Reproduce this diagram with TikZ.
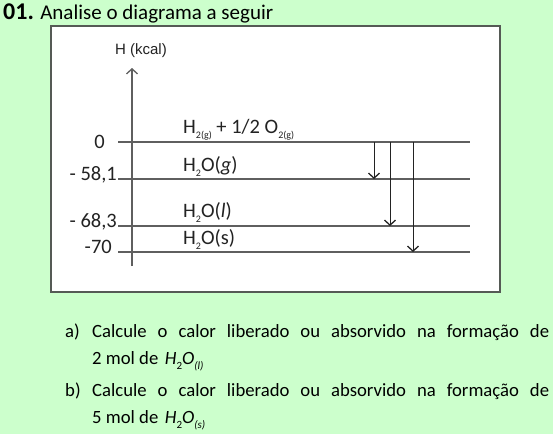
\documentclass[tikz,border=0pt]{standalone}
\usepackage{fontspec}
\setmainfont{Carlito}
\newfontfamily\arialfont{Liberation Sans}
\usetikzlibrary{arrows.meta}
\definecolor{pagegreen}{RGB}{204,255,204}
\definecolor{framegray}{RGB}{85,90,85}
\definecolor{levelgray}{RGB}{95,95,95}
\definecolor{inkgray}{RGB}{35,35,35}
\newcommand{\lowsub}[1]{\raisebox{-0.28em}{\fontsize{10}{10}\selectfont #1}}
\newcommand{\qsub}[1]{\raisebox{-0.32em}{\fontsize{11}{11}\selectfont #1}}

\begin{document}
\begin{tikzpicture}[x=1pt, y=-1pt,
    levelline/.style={levelgray, line width=1.1pt},
    axisline/.style={levelgray, line width=1.2pt, -{Straight Barb[length=5pt, width=11pt, line width=1.3pt]}},
    drop/.style={inkgray, line width=1pt, -{Straight Barb[length=5pt, width=11pt, line width=1.3pt]}},
    enthval/.style={anchor=base east, inner sep=0pt, text=inkgray, font=\fontsize{20.5}{22}\selectfont},
    statelbl/.style={anchor=base west, inner sep=0pt, text=inkgray, font=\fontsize{20.5}{22}\selectfont},
    qline/.style={anchor=base west, inner sep=0pt, font=\fontsize{18.7}{22}\selectfont}]
    \fill[pagegreen] (0,0) rectangle (553,434);
    \useasboundingbox (0,0) rectangle (553,434);
    \node[name=title, anchor=base west, inner sep=0pt, font=\fontsize{21}{24}\selectfont] at (3,19) {{\bfseries\fontsize{24}{26}\selectfont 01.} Analise o diagrama a seguir};
    \draw[framegray, fill=white, line width=1.2pt] (51,26) rectangle (500,292);
    % eixo de entalpia
    \coordinate (axbot) at (132,266);
    \coordinate (axtop) at (132,68);
    \draw[axisline] (axbot) -- (axtop);
    \node[name=hlabel, anchor=base, inner sep=0pt, text=inkgray, font=\arialfont\fontsize{15}{17}\selectfont] at (141,54) {H (kcal)};
    % niveis
    \foreach \y/\n in {142/0, 179/g, 226/l, 252/s} {
        \coordinate (lv\n) at (118,\y);
        \coordinate (lvend\n) at (470,\y);
        \draw[levelline] (lv\n) -- (lvend\n);
    }
    \node[name=v0, enthval] at (105,148) {0};
    \node[name=vg, enthval] at (117,180) {- 58,1};
    \node[name=vl, enthval] at (117,227) {- 68,3};
    \node[name=vs, enthval] at (112,253) {-70};
    \node[name=reag, statelbl] at (183,133) {H\lowsub{2(g)} + 1/2 O\lowsub{2(g)}};
    \node[name=wg, statelbl] at (183,171) {H\lowsub{2}O(\textit{g})};
    \node[name=wl, statelbl] at (183,217) {H\lowsub{2}O(\textit{l})};
    \node[name=ws, statelbl] at (183,244) {H\lowsub{2}O(s)};
    \coordinate (dg) at (374,142);
    \coordinate (dl) at (390,142);
    \coordinate (ds) at (413,142);
    \draw[drop] (dg) -- (dg |- lvg);
    \draw[drop] (dl) -- (dl |- lvl);
    \draw[drop] (ds) -- (ds |- lvs);
    % questoes
    \node[name=qa, qline] at (65,337) {a)};
    \node[name=qa1, qline] at (92,337) {\makebox[457pt][s]{Calcule o calor liberado ou absorvido na formação de}};
    \node[name=qa2, qline] at (92,364) {2 mol de\hspace{0.35em}\textit{H}\qsub{2}\textit{O}\qsub{\textit{(l)}}};
    \node[name=qb, qline] at (65,396) {b)};
    \node[name=qb1, qline] at (92,396) {\makebox[457pt][s]{Calcule o calor liberado ou absorvido na formação de}};
    \node[name=qb2, qline] at (92,423) {5 mol de\hspace{0.35em}\textit{H}\qsub{2}\textit{O}\qsub{\textit{(s)}}};
\end{tikzpicture}
\end{document}
